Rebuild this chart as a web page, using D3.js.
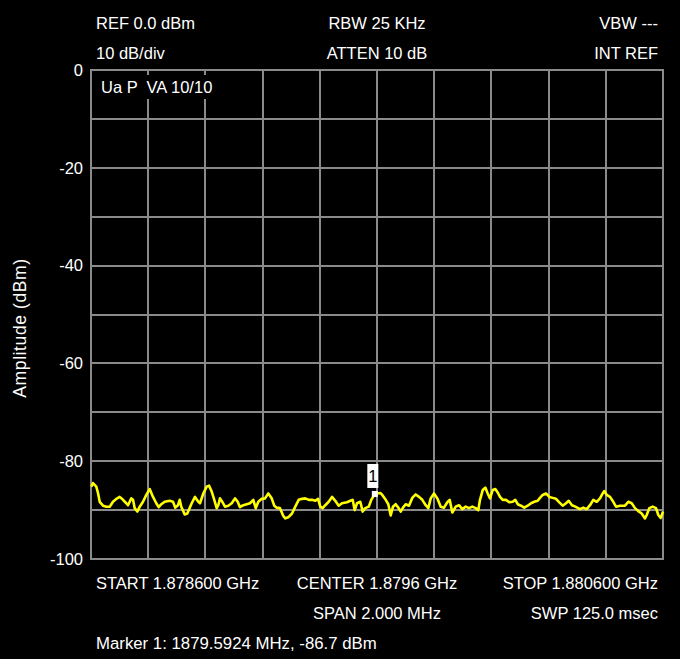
<!DOCTYPE html>
<html>
<head>
<meta charset="utf-8">
<script src="https://cdn.jsdelivr.net/npm/d3@7"></script>
<style>
  html, body { margin: 0; padding: 0; background: #000; }
  svg { display: block; }
  text { font-family: "Liberation Sans", Arial, sans-serif; fill: #fff; }
</style>
</head>
<body>
<svg id="chart" width="680" height="659"></svg>
<script>
// ---- Data ----
const freqMHz = [
  1878.6010,1878.6070,1878.6185,1878.6245,1878.6304,1878.6420,1878.6535,1878.6654,1878.6769,1878.6885,
  1878.7003,1878.7119,1878.7234,1878.7294,1878.7409,1878.7469,1878.7528,1878.7619,1878.7703,1878.7818,
  1878.7934,1878.8052,1878.8168,1878.8283,1878.8367,1878.8458,1878.8577,1878.8752,1878.8867,1878.8948,
  1878.9042,1878.9101,1878.9157,1878.9276,1878.9367,1878.9521,1878.9636,1878.9752,1878.9811,1878.9927,
  1879.0045,1879.0126,1879.0220,1879.0311,1879.0395,1879.0451,1879.0510,1879.0591,1879.0685,1879.0801,
  1879.0920,1879.1035,1879.1129,1879.1210,1879.1325,1879.1444,1879.1559,1879.1675,1879.1759,1879.1850,
  1879.1969,1879.2084,1879.2199,1879.2318,1879.2409,1879.2493,1879.2608,1879.2724,1879.2794,1879.2913,
  1879.3028,1879.3143,1879.3262,1879.3378,1879.3493,1879.3612,1879.3727,1879.3843,1879.3937,1879.4017,
  1879.4101,1879.4192,1879.4311,1879.4427,1879.4542,1879.4661,1879.4776,1879.4951,1879.5066,1879.5150,
  1879.5220,1879.5301,1879.5416,1879.5500,1879.5591,1879.5710,1879.5801,1879.5924,1879.6000,1879.6115,
  1879.6185,1879.6304,1879.6395,1879.6479,1879.6559,1879.6654,1879.6745,1879.6829,1879.6909,1879.7003,
  1879.7119,1879.7234,1879.7353,1879.7469,1879.7584,1879.7703,1879.7794,1879.7878,1879.7993,1879.8108,
  1879.8227,1879.8343,1879.8458,1879.8542,1879.8633,1879.8752,1879.8867,1879.8983,1879.9101,1879.9217,
  1879.9332,1879.9451,1879.9542,1879.9601,1879.9696,1879.9787,1879.9871,1879.9951,1880.0045,1880.0136,
  1880.0220,1880.0301,1880.0395,1880.0510,1880.0626,1880.0745,1880.0836,1880.0920,1880.1035,1880.1150,
  1880.1269,1880.1385,1880.1500,1880.1619,1880.1699,1880.1794,1880.1909,1880.2024,1880.2143,1880.2259,
  1880.2374,1880.2493,1880.2608,1880.2703,1880.2818,1880.2934,1880.3098,1880.3213,1880.3332,1880.3448,
  1880.3563,1880.3682,1880.3797,1880.3892,1880.3948,1880.4031,1880.4147,1880.4262,1880.4357,1880.4497,
  1880.4671,1880.4787,1880.4906,1880.5021,1880.5136,1880.5255,1880.5371,1880.5430,1880.5521,1880.5640,
  1880.5755,1880.5836,1880.5920,1880.6000
];
const ampDbm = [
  -85.2,-84.5,-85.2,-86.5,-88.3,-89.1,-89.3,-89.3,-88.3,-87.7,
  -87.3,-87.9,-88.6,-89.0,-87.6,-87.9,-89.6,-90.3,-89.3,-88.3,
  -86.9,-85.7,-87.3,-88.6,-89.4,-88.8,-88.3,-88.1,-88.3,-89.5,
  -89.0,-87.9,-89.3,-90.9,-90.7,-88.6,-87.3,-88.3,-88.6,-86.6,
  -85.2,-85.0,-86.2,-87.9,-89.6,-89.0,-87.6,-88.3,-89.3,-89.1,
  -88.6,-87.6,-88.3,-89.4,-89.0,-88.8,-88.6,-87.9,-89.6,-88.3,
  -87.7,-87.6,-86.6,-87.6,-89.1,-89.5,-89.6,-91.2,-91.7,-91.4,
  -90.7,-89.3,-87.9,-87.7,-87.6,-87.9,-87.9,-88.1,-87.7,-89.3,
  -89.6,-89.0,-88.3,-87.3,-88.1,-89.1,-88.6,-88.4,-88.1,-87.9,
  -90.0,-88.6,-88.3,-90.3,-89.6,-89.3,-87.9,-86.7,-86.6,-86.5,
  -86.9,-87.9,-88.8,-91.1,-89.3,-88.8,-89.5,-90.3,-89.5,-88.8,
  -89.1,-87.5,-86.8,-87.3,-87.9,-89.0,-89.6,-87.6,-86.6,-87.6,
  -89.3,-89.5,-88.4,-87.9,-90.5,-89.3,-89.0,-89.8,-89.3,-89.6,
  -89.3,-89.6,-90.0,-87.9,-85.9,-85.4,-86.6,-87.6,-85.9,-85.7,
  -86.4,-87.3,-87.9,-87.9,-88.4,-88.3,-87.9,-88.8,-89.1,-89.5,
  -89.1,-88.6,-88.3,-88.1,-87.5,-86.9,-86.6,-87.3,-87.5,-87.7,
  -88.4,-89.1,-88.6,-88.1,-89.0,-89.3,-89.8,-89.5,-89.8,-89.0,
  -87.9,-88.3,-87.6,-86.6,-86.1,-86.9,-87.3,-88.3,-89.3,-89.1,
  -89.1,-88.3,-88.6,-89.6,-90.2,-90.7,-91.7,-91.0,-89.6,-89.3,
  -89.6,-91.0,-91.6,-90.3
];
const yTickLabels = [0, -20, -40, -60, -80, -100];
const headerLeft = ["REF 0.0 dBm", "10 dB/div"];
const headerCenter = ["RBW 25 KHz", "ATTEN 10 dB"];
const headerRight = ["VBW ---", "INT REF"];
const footerRow1 = ["START 1.878600 GHz", "CENTER 1.8796 GHz", "STOP 1.880600 GHz"];
const footerRow2 = ["", "SPAN 2.000 MHz", "SWP 125.0 msec"];
const markerFreq = [1879.5924];
const markerAmp = [-86.7];
const markerNames = ["1"];
const statusText = "Ua P  VA 10/10";
const yTitle = "Amplitude (dBm)";

// ---- Layout ----
const svg = d3.select("#chart");
const W = 680, H = 659;
const plot = { left: 91, right: 663, top: 70, bottom: 559 };
svg.append("rect").attr("width", W).attr("height", H).attr("fill", "#000");

const x = d3.scaleLinear().domain([1878.6, 1880.6]).range([plot.left, plot.right]);
const y = d3.scaleLinear().domain([-100, 0]).range([plot.bottom, plot.top]);

const gridColor = "#8a8a8a";
const grid = svg.append("g");
const xGrid = d3.range(0, 11).map(i => 1878.6 + i * 0.2);
const yGrid = d3.range(0, 11).map(i => -100 + i * 10);
grid.selectAll("line.v").data(xGrid).join("line")
  .attr("x1", d => Math.round(x(d))).attr("x2", d => Math.round(x(d)))
  .attr("y1", plot.top).attr("y2", plot.bottom)
  .attr("stroke", gridColor).attr("stroke-width", 2);
grid.selectAll("line.h").data(yGrid).join("line")
  .attr("y1", d => Math.round(y(d))).attr("y2", d => Math.round(y(d)))
  .attr("x1", plot.left - 1).attr("x2", plot.right + 1)
  .attr("stroke", gridColor).attr("stroke-width", 2);

// Status box
svg.append("rect").attr("x", 93).attr("y", 75).attr("width", 124).attr("height", 24).attr("fill", "#000");
svg.append("text").attr("x", 101).attr("y", 93).attr("font-size", 16.5).attr("xml:space", "preserve")
  .style("white-space", "pre").text(statusText);

// Y axis labels
svg.append("g").selectAll("text").data(yTickLabels).join("text")
  .attr("x", 83).attr("y", d => y(d)).attr("dy", "0.35em")
  .attr("text-anchor", "end").attr("font-size", 16.5).text(d => d);

svg.append("text")
  .attr("transform", `translate(26, 328) rotate(-90)`)
  .attr("text-anchor", "middle").attr("font-size", 17.5).attr("letter-spacing", 0.6).text(yTitle);

// Header
const cx = 377;
headerLeft.forEach((t, i) => svg.append("text").attr("x", 96).attr("y", 29 + i * 30).attr("font-size", 16.5).text(t));
headerCenter.forEach((t, i) => svg.append("text").attr("x", cx).attr("y", 29 + i * 30).attr("text-anchor", "middle").attr("font-size", 16.5).text(t));
headerRight.forEach((t, i) => svg.append("text").attr("x", 658).attr("y", 29 + i * 30).attr("text-anchor", "end").attr("font-size", 16.5).text(t));

// Footer
const anchors = ["start", "middle", "end"];
const fx = [96, cx, 658];
footerRow1.forEach((t, i) => svg.append("text").attr("x", fx[i]).attr("y", 589).attr("text-anchor", anchors[i]).attr("font-size", 16.5).text(t));
footerRow2.forEach((t, i) => { if (t) svg.append("text").attr("x", fx[i]).attr("y", 619).attr("text-anchor", anchors[i]).attr("font-size", 16.5).text(t); });
svg.append("text").attr("x", 96).attr("y", 649).attr("font-size", 16.8)
  .text(`Marker ${markerNames[0]}: ${markerFreq[0].toFixed(4)} MHz, ${markerAmp[0].toFixed(1)} dBm`);

// Trace
const traceData = freqMHz.map((f, i) => [f, ampDbm[i]]);
svg.append("path").datum(traceData)
  .attr("fill", "none").attr("stroke", "#ffff00").attr("stroke-width", 2.6)
  .attr("stroke-linejoin", "round")
  .attr("d", d3.line().x(d => x(d[0])).y(d => y(d[1])));

// Marker
const mk = svg.append("g");
markerFreq.forEach((f, i) => {
  const mx = x(f), my = y(markerAmp[i]);
  mk.append("rect").attr("x", mx - 3).attr("y", my - 3).attr("width", 6).attr("height", 6).attr("fill", "#fff");
  mk.append("rect").attr("x", mx - 7.5).attr("y", my - 30).attr("width", 11).attr("height", 24).attr("fill", "#fff");
  mk.append("text").attr("x", mx - 2).attr("y", my - 12).attr("text-anchor", "middle")
    .attr("font-size", 16.5).style("fill", "#000").text(markerNames[i]);
});
</script>
</body>
</html>
